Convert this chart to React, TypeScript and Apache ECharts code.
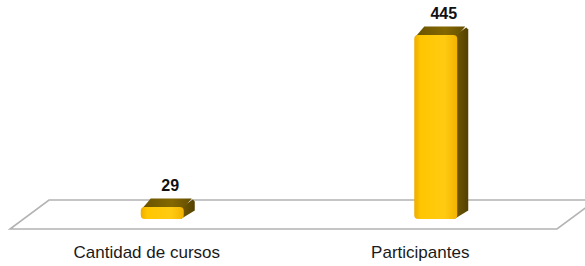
import React, { useEffect, useRef } from "react";
import * as echarts from "echarts";

const categories: string[] = ["Cantidad de cursos", "Participantes"];
const values: number[] = [29, 445];

export default function App() {
  const ref = useRef<HTMLDivElement>(null);

  useEffect(() => {
    if (!ref.current) return;
    const chart = echarts.init(ref.current, null, { renderer: "svg" });

    const FRONT_W = 43;
    const OX = 15.5;
    const OY = -10;
    const DX = 11;
    const DY = -8.5;

    const option: any = {
      animation: false,
      backgroundColor: "#ffffff",
      grid: { left: 10, right: 28, top: 45, bottom: 37, containLabel: false },
      xAxis: {
        type: "category",
        data: categories,
        axisLine: { show: false },
        axisTick: { show: false },
        splitLine: { show: false },
        axisLabel: {
          fontFamily: "Liberation Sans",
          fontSize: 17,
          color: "#1a1a1a",
          margin: 15,
        },
      },
      yAxis: {
        type: "value",
        min: 0,
        max: Math.max(...values),
        show: false,
        splitLine: { show: false },
      },
      graphic: [
        {
          type: "polygon",
          z: -10,
          silent: true,
          shape: {
            points: [
              [10, 229],
              [557, 229],
              [596, 200],
              [49, 200],
            ],
          },
          style: { fill: "#ffffff", stroke: "#b3b3b3", lineWidth: 1.6 },
        },
      ],
      series: [
        {
          type: "custom",
          z: 10,
          data: values.map((v, i) => [i, v]),
          encode: { x: 0, y: 1 },
          renderItem: (params: any, api: any) => {
            const idx = api.value(0);
            const val = api.value(1);
            const base = api.coord([idx, 0]);
            const top = api.coord([idx, val]);
            const cx = base[0] + OX;
            const xl = cx - FRONT_W / 2;
            const xr = cx + FRONT_W / 2;
            const yb = base[1] + OY;
            const yt = top[1] + OY;
            const h = yb - yt;
            return {
              type: "group",
              children: [
                {
                  type: "polygon",
                  shape: {
                    points: [
                      [xr - 3, yt + 1],
                      [xr + DX - 2, yt + DY + 1],
                      [xr + DX, yt + DY + 3],
                      [xr + DX, yb + DY],
                      [xr - 3, yb],
                    ],
                  },
                  style: {
                    fill: new echarts.graphic.LinearGradient(0, 0, 1, 0, [
                      { offset: 0, color: "#735a00" },
                      { offset: 1, color: "#544100" },
                    ]),
                  },
                },
                {
                  type: "polygon",
                  shape: {
                    points: [
                      [xl + 1, yt + 2],
                      [xl + DX - 1, yt + DY],
                      [xr + DX - 3, yt + DY],
                      [xr - 1, yt + 2],
                    ],
                  },
                  style: {
                    fill: new echarts.graphic.LinearGradient(0, 0, 1, 0, [
                      { offset: 0, color: "#6a5300" },
                      { offset: 0.6, color: "#836700" },
                      { offset: 1, color: "#654e00" },
                    ]),
                  },
                },
                {
                  type: "rect",
                  shape: { x: xl, y: yt, width: FRONT_W, height: h, r: Math.min(4, h / 3) },
                  style: {
                    fill: new echarts.graphic.LinearGradient(0, 0, 1, 0, [
                      { offset: 0, color: "#eeac00" },
                      { offset: 0.15, color: "#ffc600" },
                      { offset: 0.7, color: "#ffcb12" },
                      { offset: 1, color: "#f3b300" },
                    ]),
                  },
                },
                {
                  type: "text",
                  style: {
                    text: String(val),
                    x: cx + 8,
                    y: yt + DY - 5,
                    align: "center",
                    verticalAlign: "bottom",
                    fontFamily: "Liberation Sans",
                    fontWeight: "bold",
                    fontSize: 16,
                    fill: "#111111",
                  },
                },
              ],
            };
          },
        },
      ],
    };

    chart.setOption(option);
    return () => chart.dispose();
  }, []);

  return (
    <div
      ref={ref}
      style={{ position: "fixed", left: 0, top: 0, width: 585, height: 266 }}
    />
  );
}
